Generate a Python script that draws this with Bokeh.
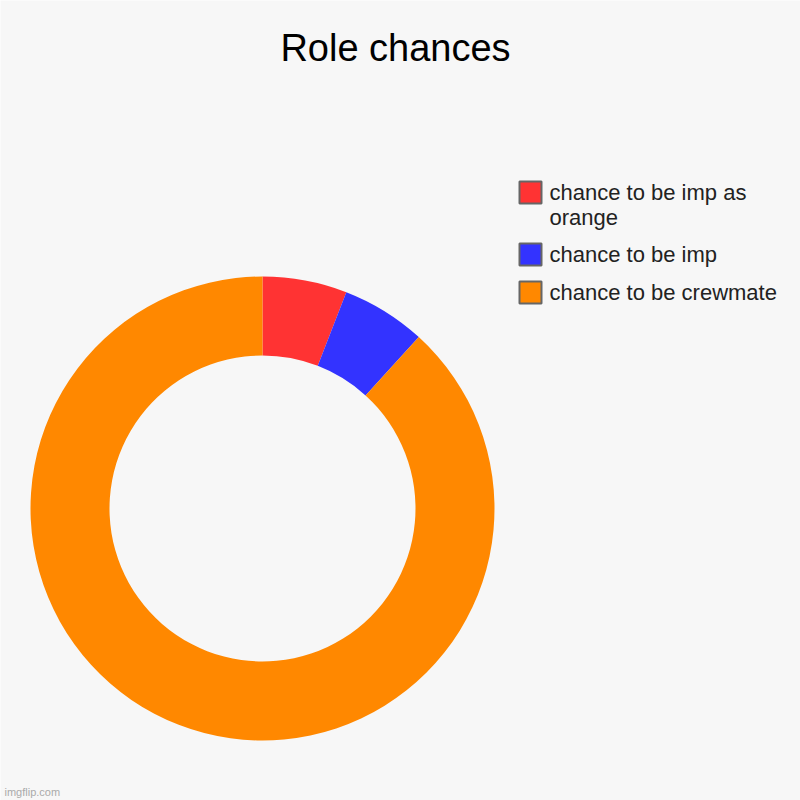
import numpy as np
import pandas as pd
from bokeh.plotting import figure
from bokeh.models import ColumnDataSource, Range1d
from bokeh.core.properties import value
from bokeh.embed import file_html
from bokeh.resources import INLINE

# chart data
labels = ["chance to be imp as orange", "chance to be imp", "chance to be crewmate"]
legend_lines = [["chance to be imp as", "orange"], ["chance to be imp"], ["chance to be crewmate"]]
counts = [1, 1, 15]
colors = ["#FF3333", "#3333FF", "#FF8800"]

W = H = 800
BG = "#F7F7F7"
FONT = "Liberation Sans"

df = pd.DataFrame({"label": labels, "count": counts, "color": colors})
frac = df["count"] / df["count"].sum()
ends = frac.cumsum()
starts = ends - frac
# start at 12 o'clock, go clockwise
df["start"] = np.pi / 2 - starts * 2 * np.pi
df["end"] = np.pi / 2 - ends * 2 * np.pi
source = ColumnDataSource(df)

p = figure(width=W, height=H, output_backend="svg", toolbar_location=None,
           x_range=Range1d(0, W), y_range=Range1d(0, H),
           background_fill_color=BG, border_fill_color=BG, outline_line_color=None,
           min_border=0)
p.axis.visible = False
p.grid.visible = False

# donut
cx, cy = 262, 292
p.annular_wedge(x=cx, y=cy, inner_radius=153, outer_radius=232,
                start_angle="start", end_angle="end", direction="clock",
                fill_color="color", line_color=None, source=source)

# title
p.text(x=[395], y=[753], text=["Role chances"], text_font=value(FONT),
       text_font_size="38px", text_align="center", text_baseline="middle",
       text_color="#000000")

# legend, hand drawn so the first label can wrap
sq_x = 530
sq_y = [608, 546, 508]
for i, lines in enumerate(legend_lines):
    p.rect(x=[sq_x], y=[sq_y[i]], width=22, height=22, fill_color=colors[i],
           line_color="#666666", line_width=2)
    for j, ln in enumerate(lines):
        p.text(x=[549], y=[sq_y[i] - j * 25], text=[ln], text_font=value(FONT),
               text_font_size="22px", text_align="left", text_baseline="middle",
               text_color="#222222")

# watermark
p.text(x=[4], y=[9], text=["imgflip.com"], text_font=value(FONT),
       text_font_size="11px", text_align="left", text_baseline="middle",
       text_color="#AAAAAA")

open("out.html", "w").write(file_html(p, INLINE))
